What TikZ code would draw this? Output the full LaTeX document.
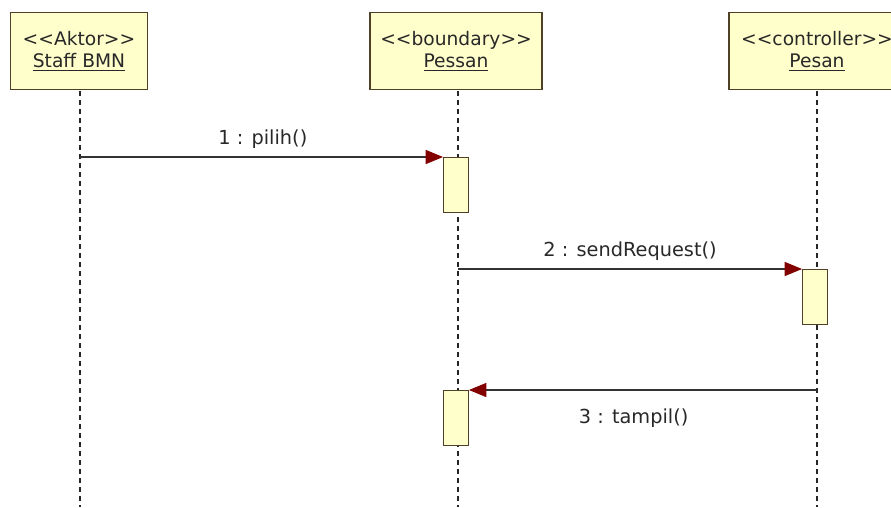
\documentclass[tikz,border=0pt]{standalone}
\usepackage{fontspec}
\setmainfont{DejaVu Sans}
\usetikzlibrary{arrows.meta}
\definecolor{boxfill}{RGB}{255,255,204}
\definecolor{boxline}{RGB}{80,64,40}
\definecolor{tipred}{RGB}{130,0,0}
\definecolor{txt}{RGB}{40,40,40}
\tikzset{
  objbox/.style={draw=boxline, fill=boxfill, line width=1.2pt, inner sep=0pt, align=center, text=txt, font=\fontsize{14pt}{17pt}\selectfont},
  actbox/.style={draw=boxline, fill=boxfill, line width=0.9pt, minimum width=18.5pt, minimum height=41pt, inner sep=0pt},
  lifeline/.style={dash pattern=on 3.75pt off 3pt, line width=1.3pt, black!85},
  msg/.style={draw=black!80, line width=0.8pt, -{Triangle[length=13pt,width=10.5pt,color=tipred,fill=tipred]}},
  msglabel/.style={text=txt, font=\fontsize{14.5pt}{16pt}\selectfont}
}
\begin{document}
\begin{tikzpicture}[x=0.75pt,y=-0.75pt]
\useasboundingbox (0,0) rectangle (891,507);
% lifelines
\coordinate (e1) at (80,507);
\coordinate (e2) at (458,507);
\coordinate (e3) at (817,507);
\node[objbox, minimum width=103pt, minimum height=58pt] (o1) at (79,51) {{<}{<}Aktor{>}{>}\\\underline{Staff BMN}};
\node[objbox, minimum width=129pt, minimum height=58pt] (o2) at (456,51) {{<}{<}boundary{>}{>}\\\underline{Pessan}};
\node[objbox, minimum width=132pt, minimum height=58pt] (o3) at (817,51) {{<}{<}controller{>}{>}\\\underline{Pesan}};
\draw[lifeline] (80,91) -- (e1);
\draw[lifeline] (458,91) -- (e2);
\draw[lifeline] (817,91) -- (e3);
% activations
\node[actbox, anchor=north] (a1) at (456,157) {};
\node[actbox, anchor=north] (a2) at (815,269) {};
\node[actbox, anchor=north] (a3) at (456,390) {};
\coordinate (s1) at (80,157);
\coordinate (s2) at (458,269);
\coordinate (s3) at (817,390);
\draw[msg] (s1) -- (a1.north west) node[msglabel, midway, above=3pt, xshift=1pt] {1 : pilih()};
\draw[msg] (s2) -- (a2.north west) node[msglabel, midway, above=3pt] {2 : sendRequest()};
\draw[msg] (s3) -- (a3.north east) node[msglabel, midway, below=10pt, xshift=-7pt] {3 : tampil()};
\end{tikzpicture}
\end{document}
